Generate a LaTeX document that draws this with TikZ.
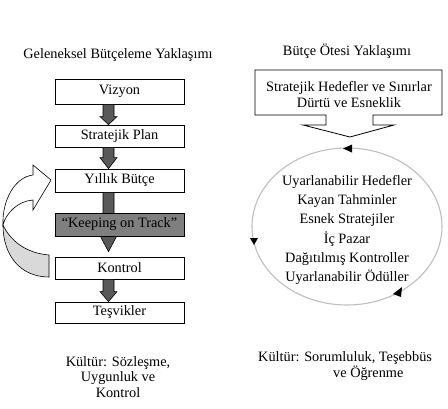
\documentclass[tikz,border=0pt]{standalone}
\usepackage{fontspec}
\setmainfont{Liberation Serif}
\usetikzlibrary{calc,shapes.geometric}
\definecolor{keepgray}{HTML}{7F7F7F}
\definecolor{arrgray}{HTML}{595959}
\definecolor{curvgray}{HTML}{D9D9D9}
\definecolor{ellgray}{HTML}{BFBFBF}
\newcommand\fs{\fontsize{14.3}{16}\selectfont}
\newcommand\fsell{\fontsize{14.3}{19.2}\selectfont}
\newcommand\fsbot{\fontsize{14.3}{15.5}\selectfont}
\newcommand\blkarrow[3]{%
  \path[blkarr] let \p1=#1, \p2=#2 in
    (\x1-5.5pt,\y1) -- (\x1+5.5pt,\y1) -- (\x1+5.5pt,\y2+#3pt) -- (\x1+8.5pt,\y2+#3pt)
    -- (\x1,\y2) -- (\x1-8.5pt,\y2+#3pt) -- (\x1-5.5pt,\y2+#3pt) -- cycle;}
\begin{document}
\begin{tikzpicture}[x=1pt,y=-1pt,
  box/.style={draw=black,line width=0.8pt,minimum width=129pt,inner sep=0pt,font=\fs,text=black,fill=white},
  blkarr/.style={draw=black,line width=0.6pt,fill=arrgray},
  txt/.style={font=\fs,inner sep=0pt,text=black},
  tri/.style={fill=black}]
\fill[white] (0,0) rectangle (448,408);
\useasboundingbox (0,0) rectangle (448,408);
% titles
\node[txt] (lt) at (118,55) {Geleneksel Bütçeleme Yaklaşımı};
\node[txt] (rt) at (347,51) {Bütçe Ötesi Yaklaşımı};
% left boxes
\node[box,minimum height=25pt] (viz) at (119.5,91.5) {Vizyon};
\node[box,minimum height=22pt] (sp) at (119.5,136) {Stratejik Plan};
\node[box,minimum height=23pt] (yb) at (119.5,180.5) {Yıllık Bütçe};
\node[box,minimum height=22pt] (kon) at (119.5,268) {Kontrol};
\node[box,minimum height=21pt] (tes) at (119.5,312.5) {Teşvikler};
% block arrows
\blkarrow{($(viz.south)+(-11,0)$)}{($(sp.north)+(-11,0)$)}{8}
\blkarrow{($(sp.south)+(-11,0)$)}{($(yb.north)+(-11,0)$)}{11}
\coordinate (a3end) at ($(kon.north)+(-11,-5)$);
\blkarrow{($(yb.south)+(-11,0)$)}{(a3end)}{16}
\blkarrow{($(kon.south)+(-11,0)$)}{($(tes.north)+(-11,0)$)}{10}
\node[box,fill=keepgray,minimum height=23pt] (kt) at (119.5,224.5) {“Keeping on Track”};
% curved feedback arrow
\path[draw=black,line width=0.6pt,fill=curvgray]
  (3,225) .. controls (10,240) and (25,253) .. (49,255) -- (49,277)
  .. controls (20,277) and (3,255) .. (3,225) -- cycle;
\path[draw=black,line width=0.6pt,fill=white]
  (3,225) .. controls (2,200) and (15,177) .. (33,175) -- (33,165) -- (51,180)
  -- (33,210) -- (33,200) .. controls (18,201) and (6,213) .. (3,225) -- cycle;
% right callout box
\path[draw=black,line width=0.8pt,fill=white]
  (255,70) -- (442,70) -- (442,115) -- (373,115) -- (373,125) -- (394,125)
  -- (350,137) -- (303,125) -- (326,125) -- (326,115) -- (255,115) -- cycle;
\node[txt,align=center] (rtxt) at (349,95) {Stratejik Hedefler ve Sınırlar\\Dürtü ve Esneklik};
% ellipse cycle
\node[ellipse,draw=ellgray,line width=1.1pt,minimum width=190pt,minimum height=157pt,inner sep=0pt] (ell) at (347,226.5) {};
\node[txt,font=\fsell,align=center] (etxt) at (347,230) {Uyarlanabilir Hedefler\\Kayan Tahminler\\Esnek Stratejiler\\İç Pazar\\Dağıtılmış Kontroller\\Uyarlanabilir Ödüller};
\fill[tri] (343,148.5) -- (352,144.5) -- (352,152.5) -- cycle;
\fill[tri] (254,245) -- (250,238) -- (258,238) -- cycle;
\fill[tri] (393,294) -- (402,287) -- (401,297) -- cycle;
% bottom texts
\node[txt,font=\fsbot,align=center] (lc) at (118,377) {Kültür: Sözleşme,\\Uygunluk ve\\Kontrol};
\node[txt,font=\fsbot,align=left,anchor=west] (rc) at (258,366) {Kültür: Sorumluluk, Teşebbüs\\\hspace*{75pt}ve Öğrenme};
\end{tikzpicture}
\end{document}
